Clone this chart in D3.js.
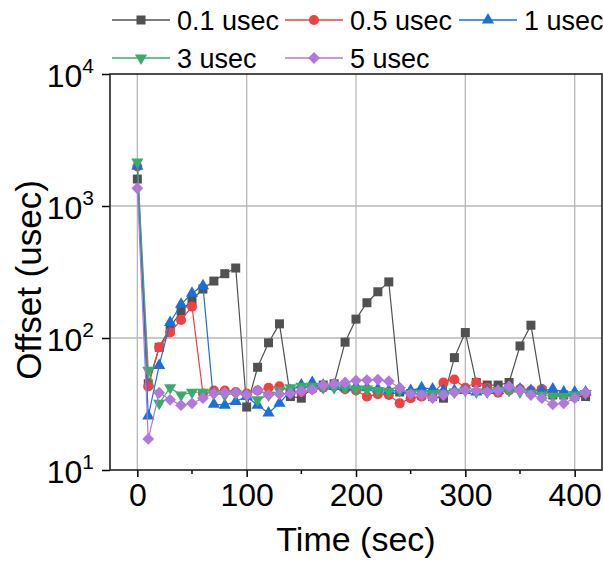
<!DOCTYPE html>
<html>
<head>
<meta charset="utf-8">
<script src="https://cdn.jsdelivr.net/npm/d3@7"></script>
<style>
  body { margin: 0; background: #fff; }
  text { font-family: "Liberation Sans", Arial, sans-serif; fill: #000; }
</style>
</head>
<body>
<script>
// sample times (sec)
var times = [0, 10, 20, 30, 40, 50, 60, 70, 80, 90, 100, 110, 120, 130, 140, 150, 160, 170, 180, 190, 200,
             210, 220, 230, 240, 250, 260, 270, 280, 290, 300, 310, 320, 330, 340, 350, 360, 370, 380, 390, 400, 410];

// offsets (usec) per series
var off01 = [1600, 45, 85, 120, 160, 194, 235, 270, 307, 339, 30, 60, 92, 128, 36, 35, 42, 44, 45, 93, 139,
             185, 224, 266, 39, 38, 37, 36, 35, 71, 110, 46, 44, 44, 46, 87, 125, 40, 37, 37, 36, 36];
var off05 = [1990, 43, 85, 110, 137, 173, 38, 40, 40, 39, 38, 40, 42, 43, 40, 39, 41, 42, 43, 41, 40,
             36, 37.5, 37, 32, 35, 36, 38, 46, 48.5, 42, 46, 42, 38.5, 40, 41, 40, 41, 38, 37, 36, 38];
var off1  = [2000, 25.6, 62, 131, 180, 218, 249, 31.5, 31, 33, 36, 31, 27, 32, 40, 44, 46, 44, 43, 42, 43,
             42, 41, 40, 40, 40, 42, 41, 40, 40, 40, 39, 40, 40, 42, 41, 40, 40, 41, 39, 39, 39];
var off3  = [2150, 57, 32, 42, 37, 38.8, 38.8, 38, 37, 38, 37, 34, 37, 40, 42, 43, 43, 42, 42, 42, 41,
             41, 40, 39.5, 40, 38, 38, 38, 38, 39, 40, 39, 39, 40, 40, 39, 38, 37, 36, 36, 37, 38];
var off5  = [1362, 17.2, 38.5, 34, 31, 32, 35, 38, 38.5, 38.5, 37, 40, 37, 37.6, 38, 39.5, 40.6, 44, 45, 46, 47.6,
             48, 48.4, 47, 42, 37.6, 37, 35, 37, 38.6, 40, 40, 39, 40, 43, 40, 37, 35, 31.5, 32, 35, 38.6];

var seriesNames = ["0.1 usec", "0.5 usec", "1 usec", "3 usec", "5 usec"];
var xTicks = [0, 100, 200, 300, 400];
var xMinor = [50, 150, 250, 350];
var yTicks = [10, 100, 1000, 10000];

var colors = ["#515151", "#F14040", "#1A6FDF", "#37AD6B", "#B177DE"];
var symbols = [
  {type: d3.symbolSquare, size: 81, rot: 0},
  {type: d3.symbolCircle, size: 80, rot: 0},
  {type: d3.symbolTriangle, size: 64, rot: 0},
  {type: d3.symbolTriangle, size: 64, rot: 180},
  {type: d3.symbolSquare, size: 70, rot: 45}
];

var series = [off01, off05, off1, off3, off5].map(function(vals, i) {
  return {name: seriesNames[i], values: times.map(function(t, j) { return {t: t, v: vals[j]}; })};
});

var W = 603, H = 561;
var margin = {top: 74, right: 1, bottom: 91, left: 110};

var svg = d3.select("body").append("svg")
    .attr("width", W)
    .attr("height", H);

var x = d3.scaleLinear().domain([-25, 425]).range([margin.left, W - margin.right]);
var y = d3.scaleLog().domain([10, 10000]).range([H - margin.bottom, margin.top]);

// grid
svg.append("g").selectAll("line.gx")
  .data(xTicks).enter().append("line")
    .attr("x1", function(d) { return x(d); }).attr("x2", function(d) { return x(d); })
    .attr("y1", y(10)).attr("y2", y(10000))
    .attr("stroke", "#b8b8b8").attr("stroke-width", 1.3);
svg.append("g").selectAll("line.gy")
  .data([100, 1000]).enter().append("line")
    .attr("x1", x(-25)).attr("x2", x(425))
    .attr("y1", function(d) { return y(d); }).attr("y2", function(d) { return y(d); })
    .attr("stroke", "#b8b8b8").attr("stroke-width", 1.3);

// axes
var xAxis = svg.append("g")
  .attr("transform", "translate(0," + y(10) + ")")
  .call(d3.axisBottom(x).tickValues(xTicks).tickSize(7).tickPadding(6).tickFormat(d3.format("d")));
xAxis.select(".domain").remove();
xAxis.selectAll("text").style("font-size", "32px");
xAxis.selectAll("line").attr("stroke-width", 1.5);

svg.append("g").selectAll("line")
  .data(xMinor).enter().append("line")
    .attr("x1", function(d) { return x(d); }).attr("x2", function(d) { return x(d); })
    .attr("y1", y(10)).attr("y2", y(10) + 4)
    .attr("stroke", "#000").attr("stroke-width", 1.5);

var yAxis = svg.append("g")
  .attr("transform", "translate(" + x(-25) + ",0)")
  .call(d3.axisLeft(y).tickValues(yTicks).tickSize(8).tickFormat(""));
yAxis.select(".domain").remove();
yAxis.selectAll("line").attr("stroke-width", 1.5);

var yLab = svg.append("g").selectAll("text")
  .data(yTicks).enter().append("text")
    .attr("x", x(-25) - 16)
    .attr("y", function(d) { return y(d) + 13; })
    .attr("text-anchor", "end");
yLab.append("tspan").style("font-size", "32px").text("10");
yLab.append("tspan").style("font-size", "21px").attr("dy", -14)
    .text(function(d) { return Math.round(Math.log10(d)); });

// frame
svg.append("rect")
  .attr("x", x(-25)).attr("y", y(10000))
  .attr("width", x(425) - x(-25)).attr("height", y(10) - y(10000))
  .attr("fill", "none").attr("stroke", "#222").attr("stroke-width", 1.6);

// titles
svg.append("text")
  .attr("x", (x(-25) + x(425)) / 2).attr("y", 551)
  .attr("text-anchor", "middle").style("font-size", "34px")
  .text("Time (sec)");
svg.append("text")
  .attr("transform", "translate(41,280) rotate(-90)")
  .attr("text-anchor", "middle").style("font-size", "35px")
  .text("Offset (usec)");

// series
var line = d3.line().x(function(d) { return x(d.t); }).y(function(d) { return y(d.v); });

series.forEach(function(s, i) {
  var g = svg.append("g");
  g.append("path")
    .datum(s.values)
    .attr("d", line)
    .attr("fill", "none")
    .attr("stroke", colors[i])
    .attr("stroke-width", 1.2);
  g.selectAll("path.m")
    .data(s.values).enter().append("path")
      .attr("class", "m")
      .attr("d", d3.symbol().type(symbols[i].type).size(symbols[i].size))
      .attr("transform", function(d) {
        return "translate(" + x(d.t) + "," + y(d.v) + ") rotate(" + symbols[i].rot + ")";
      })
      .attr("fill", colors[i]);
});

// legend
var legPos = [[112, 20], [285, 20], [459, 20], [112, 58], [285, 58]];
series.forEach(function(s, i) {
  var lg = svg.append("g").attr("transform", "translate(" + legPos[i][0] + "," + legPos[i][1] + ")");
  lg.append("line").attr("x1", 0).attr("x2", 58).attr("y1", 0).attr("y2", 0)
    .attr("stroke", colors[i]).attr("stroke-width", 1.4);
  lg.append("path")
    .attr("d", d3.symbol().type(symbols[i].type).size(symbols[i].size))
    .attr("transform", "translate(29,0) rotate(" + symbols[i].rot + ")")
    .attr("fill", colors[i]);
  lg.append("text").attr("x", 65).attr("y", 10)
    .style("font-size", "27px")
    .text(s.name);
});
</script>
</body>
</html>
